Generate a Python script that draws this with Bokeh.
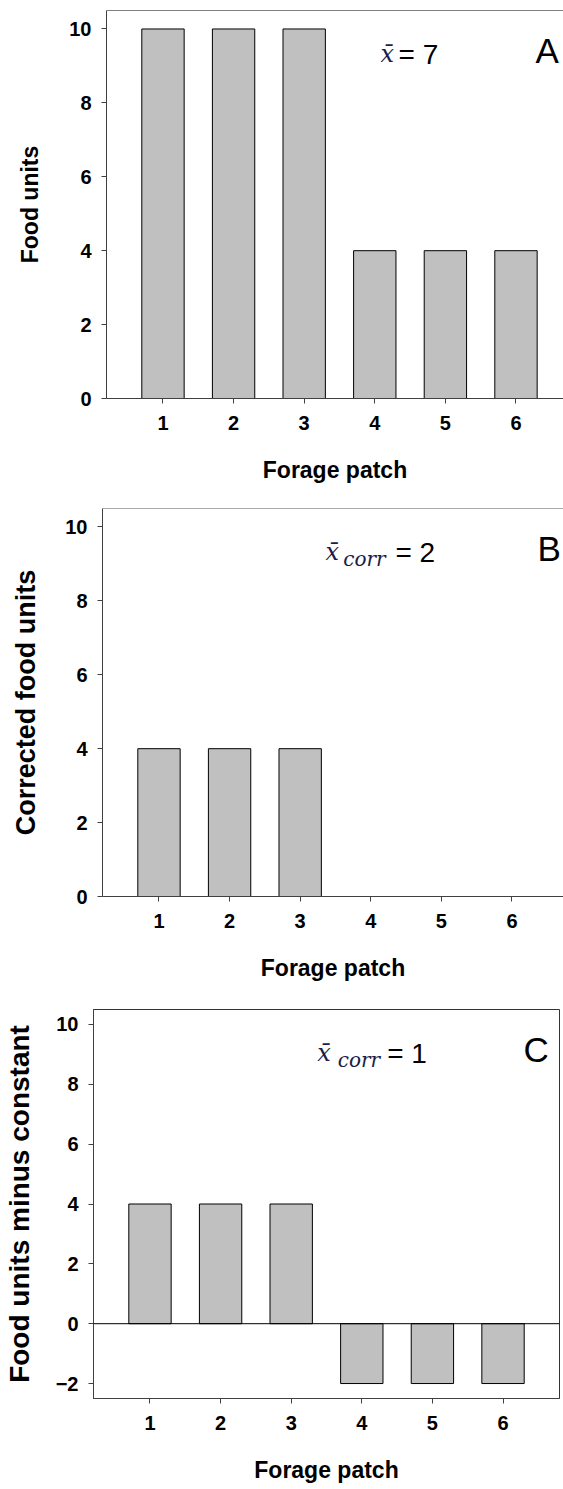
from bokeh.plotting import figure
from bokeh.models import Range1d, Span, Label, FixedTicker, ColumnDataSource
from bokeh.embed import file_html
from bokeh.resources import INLINE

# ---- data ----
patches = [1, 2, 3, 4, 5, 6]
food_units = [10, 10, 10, 4, 4, 4]
corrected_units = [4, 4, 4, 0, 0, 0]
minus_constant = [4, 4, 4, -2, -2, -2]
y_ticks_ab = [0, 2, 4, 6, 8, 10]
y_ticks_c = [-2, 0, 2, 4, 6, 8, 10]
x_label = "Forage patch"
y_labels = ["Food units", "Corrected food units", "Food units minus constant"]
panel_letters = ["A", "B", "C"]
means = ["7", "2", "1"]

AXIS_COL = "#404040"
FONT = "Liberation Sans"


def make_panel(values, ylabel, yticks, ymin, fw, fh, mb_left, mb_right, mb_top, mb_bottom,
               xend, ylab_standoff, ylab_size, outline):
    p = figure(frame_width=fw, frame_height=fh,
               min_border_left=mb_left, min_border_right=mb_right,
               min_border_top=mb_top, min_border_bottom=mb_bottom,
               x_range=Range1d(0.2, xend), y_range=Range1d(ymin, 10.5),
               output_backend="svg", toolbar_location=None, tools="")
    p.grid.visible = False
    p.background_fill_color = "white"
    p.border_fill_color = "white"
    p.outline_line_color = "#333333" if outline else None

    src = ColumnDataSource(dict(x=patches, top=values))
    p.vbar(x="x", top="top", bottom=0, width=0.6, source=src,
           fill_color="#c0c0c0", line_color="black", line_width=1)

    p.xaxis.ticker = FixedTicker(ticks=patches)
    p.yaxis.ticker = FixedTicker(ticks=yticks)
    for ax in (p.xaxis, p.yaxis):
        ax.minor_tick_line_color = None
        ax.major_tick_in = 0
        ax.major_tick_out = 5
        ax.axis_line_color = AXIS_COL
        ax.major_tick_line_color = AXIS_COL
        ax.major_label_text_font = FONT
        ax.major_label_text_font_style = "bold"
        ax.major_label_text_font_size = "20px"
        ax.major_label_text_color = "black"
        ax.axis_label_text_font = FONT
        ax.axis_label_text_font_style = "bold"
        ax.axis_label_text_font_size = "23px"
        ax.axis_label_text_color = "black"
    p.yaxis.axis_label_text_font_size = ylab_size
    p.xaxis.major_label_standoff = 12
    p.yaxis.major_label_standoff = 10
    p.xaxis.axis_label = x_label
    p.yaxis.axis_label = ylabel
    p.xaxis.axis_label_standoff = 24
    p.yaxis.axis_label_standoff = ylab_standoff
    return p


# Panel A (page y 0..498)
pa = make_panel(food_units, y_labels[0], y_ticks_ab, 0, 457, 388, 106, 0, 10, 100, 6.673, 23, "23px", False)
pa.add_layout(Span(location=10.5, dimension="width", line_color="black", line_width=1))
# Panel B (page y 498..1000)
pb = make_panel(corrected_units, y_labels[1], y_ticks_ab, 0, 461, 388, 102, 0, 10, 104, 6.73, 21, "27px", False)
pb.add_layout(Span(location=10.5, dimension="width", line_color="#555555", line_width=1))
# Panel C (page y 1000..1486)
pc = make_panel(minus_constant, y_labels[2], y_ticks_c, -2.5, 466, 389, 93, 4, 9, 88, 6.8, 18, "28px", True)
pc.add_layout(Span(location=0, dimension="width", line_color="black", line_width=1))

XBAR_COL = "#1c1c4a"


def annotate(p, letter, mean, lx, ly, bx, by, sub, sx, sy, ex, ey):
    p.add_layout(Label(x=lx, y=ly, text=letter, text_font=FONT, text_font_size="35px",
                       text_color="black", text_align="left", text_baseline="alphabetic"))
    p.add_layout(Label(x=bx, y=by, text="x\u0304", text_font="DejaVu Serif",
                       text_font_style="italic", text_font_size="24px", text_color=XBAR_COL,
                       text_align="left", text_baseline="alphabetic"))
    if sub:
        p.add_layout(Label(x=sx, y=sy, text="corr", text_font="DejaVu Serif",
                           text_font_style="italic", text_font_size="20px", text_color=XBAR_COL,
                           text_align="left", text_baseline="alphabetic"))
    p.add_layout(Label(x=ex, y=ey, text="= " + mean, text_font=FONT, text_font_size="28px",
                       text_color="black", text_align="left", text_baseline="alphabetic"))


annotate(pa, panel_letters[0], means[0], 6.276, 9.43, 4.08, 9.32, False, 0, 0, 4.336, 9.32)
annotate(pb, panel_letters[1], means[1], 6.36, 9.42, 3.36, 9.31, True, 3.61, 9.12, 4.35, 9.31)
annotate(pc, panel_letters[2], means[2], 6.29, 9.16, 3.37, 9.03, True, 3.66, 8.8, 4.36, 9.03)

p = [pa, pb, pc]
open("out.html", "w").write(file_html(p, INLINE))
